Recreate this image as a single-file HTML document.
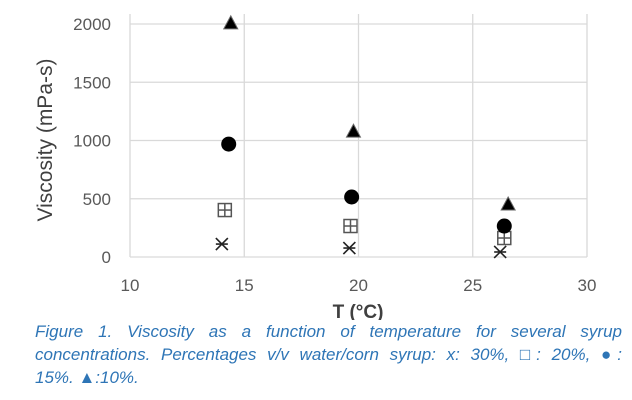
<!DOCTYPE html>
<html><head><meta charset="utf-8"><style>
body{margin:0;background:#fff;width:632px;height:400px;overflow:hidden;font-family:"Liberation Sans",sans-serif}
.cap{position:absolute;left:35px;top:320px;width:587px;font-size:17px;line-height:23px;color:#2e75b6;font-style:italic}
.cap div{white-space:nowrap}
.cap .j{text-align:justify;text-align-last:justify;white-space:normal}
</style></head><body>
<svg id="chart" width="632" height="320" style="position:absolute;left:0;top:0" font-family="Liberation Sans, sans-serif"></svg>
<div class="cap"><div class="j">Figure 1. Viscosity as a function of temperature for several syrup</div><div class="j">concentrations. Percentages v/v water/corn syrup: x: 30%, □: 20%, ●:</div><div>15%. ▲:10%.</div></div>
<script>
const xTicks=[10,15,20,25,30];
const yTicks=[0,500,1000,1500,2000];
const x30=[14.02,19.6,26.2], y30=[111,77,43];
const x20=[14.15,19.65,26.38], y20=[403,266,163];
const x15=[14.32,19.7,26.38], y15=[969,515,266];
const x10=[14.41,19.78,26.55], y10=[2010,1080,455];
const NS="http://www.w3.org/2000/svg";
const svg=document.getElementById('chart');
const X=v=>130+(v-10)*(457/20);
const Y=v=>257-v*(233/2000);
function mk(t,a,p){const e=document.createElementNS(NS,t);for(const k in a)e.setAttribute(k,a[k]);(p||svg).appendChild(e);return e;}
xTicks.forEach(t=>{
 const l=mk('line',{x1:X(t),x2:X(t),y1:Y(2000)-10,y2:Y(0),stroke:'#d9d9d9','stroke-width':1.3});
 
 
 const tx=mk('text',{x:X(t),y:291,'text-anchor':'middle','font-size':17,fill:'#595959'});tx.textContent=t;
 
 
});
yTicks.forEach(t=>{
 const l=mk('line',{x1:X(10),x2:X(30),y1:Y(t),y2:Y(t),stroke:'#d9d9d9','stroke-width':1.3});
 
 
 const tx=mk('text',{x:111,y:Y(t)+6,'text-anchor':'end','font-size':17,fill:'#595959'});tx.textContent=t;
 
 
});
const xt=mk('text',{x:358,y:318,'text-anchor':'middle','font-size':19,'font-weight':'bold',fill:'#404040'});xt.textContent='T (°C)';


const yt=mk('text',{x:0,y:0,transform:'translate(52,140) rotate(-90)','text-anchor':'middle','font-size':21,fill:'#404040'});yt.textContent='Viscosity (mPa-s)';


x30.forEach((v,i)=>{const cx=X(v),cy=Y(y30[i]);const g=mk('g',{stroke:'#222','stroke-width':1.6});
 
 
 mk('line',{x1:cx-6,y1:cy-6,x2:cx+6,y2:cy+6},g);mk('line',{x1:cx-6,y1:cy+6,x2:cx+6,y2:cy-6},g);mk('line',{x1:cx-6,y1:cy,x2:cx+6,y2:cy},g);});
x20.forEach((v,i)=>{const cx=X(v),cy=Y(y20[i]);const g=mk('g',{stroke:'#555','stroke-width':1.5,fill:'none'});
 
 
 mk('rect',{x:cx-6.5,y:cy-6.5,width:13,height:13},g);mk('line',{x1:cx-6.5,y1:cy,x2:cx+6.5,y2:cy},g);mk('line',{x1:cx,y1:cy-6.5,x2:cx,y2:cy+6.5},g);});
x15.forEach((v,i)=>{const c=mk('circle',{cx:X(v),cy:Y(y15[i]),r:7.5,fill:'#000'});
 
 });
x10.forEach((v,i)=>{const cx=X(v),cy=Y(y10[i]);const p=mk('polygon',{points:`${cx},${cy-7} ${cx-7},${cy+6} ${cx+7},${cy+6}`,fill:'#000',stroke:'#666','stroke-width':1});
 
 });
</script>
</body></html>
